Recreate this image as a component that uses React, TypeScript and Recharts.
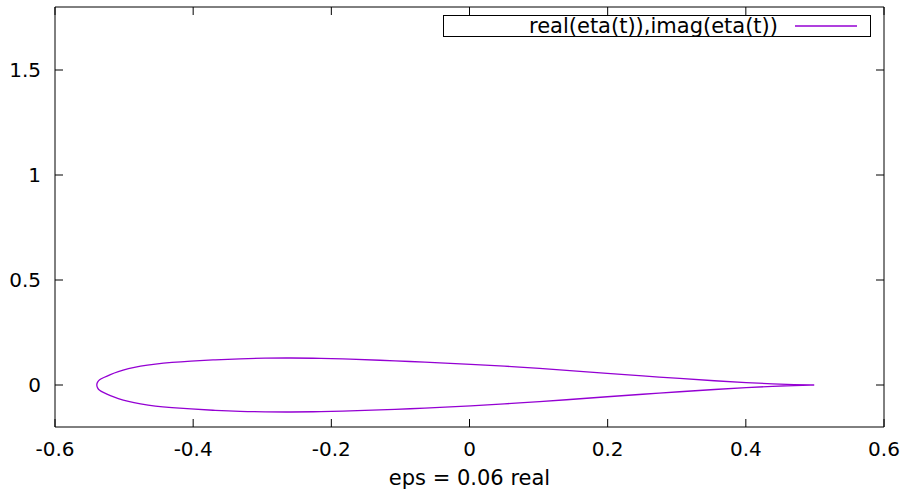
import { LineChart, Line, XAxis, YAxis, Legend } from "recharts";

// airfoil outline, upper surface from trailing to leading edge
const upperX = [0.499, 0.47, 0.44, 0.402, 0.355, 0.305, 0.25, 0.199, 0.15, 0.102, 0.05, 0.001, -0.043, -0.086, -0.13, -0.173, -0.215, -0.26, -0.296, -0.332, -0.368, -0.405, -0.431, -0.455, -0.477, -0.494, -0.509, -0.52, -0.53, -0.536, -0.5385, -0.54];
const upperY = [0, 0.002, 0.005, 0.011, 0.02, 0.031, 0.043, 0.055, 0.067, 0.079, 0.09, 0.099, 0.106, 0.112, 0.118, 0.123, 0.127, 0.129, 0.128, 0.125, 0.12, 0.114, 0.108, 0.1, 0.09, 0.078, 0.064, 0.05, 0.035, 0.025, 0.014, 0];

// lower surface from leading back to trailing edge
const lowerX = [-0.5385, -0.536, -0.53, -0.52, -0.509, -0.494, -0.477, -0.455, -0.431, -0.405, -0.368, -0.332, -0.296, -0.26, -0.215, -0.173, -0.13, -0.086, -0.043, 0.001, 0.05, 0.102, 0.15, 0.199, 0.25, 0.305, 0.355, 0.402, 0.44, 0.47, 0.499];
const lowerY = [-0.014, -0.025, -0.036, -0.051, -0.065, -0.079, -0.09, -0.101, -0.108, -0.114, -0.121, -0.126, -0.128, -0.129, -0.127, -0.124, -0.119, -0.113, -0.107, -0.1, -0.09, -0.079, -0.068, -0.056, -0.044, -0.032, -0.021, -0.012, -0.006, -0.002, 0];

const xTicks = [-0.6, -0.4, -0.2, 0, 0.2, 0.4, 0.6];
const yTicks = [0, 0.5, 1, 1.5];

const seriesName = "real(eta(t)),imag(eta(t))";
const xTitle = "eps = 0.06 real";

const LINE_COLOR = "#9400d3";
const FONT = "DejaVu Sans";
const TICK_LEN = 8;

const data = [
  ...upperX.map((x, i) => ({ x, y: upperY[i] })),
  ...lowerX.map((x, i) => ({ x, y: lowerY[i] })),
];

// gnuplot style: tick marks point into the plot
function BottomTick({ x, y, payload }: any) {
  const axisY = y - 15;
  return (
    <g>
      <line x1={x} x2={x} y1={axisY} y2={axisY - TICK_LEN} stroke="#000" />
      <text x={x} y={y} dy="0.71em" textAnchor="middle" fontSize={20} fontFamily={FONT} fill="#000">
        {payload.value}
      </text>
    </g>
  );
}

function LeftTick({ x, y, payload }: any) {
  const axisX = x + 14;
  return (
    <g>
      <line x1={axisX} x2={axisX + TICK_LEN} y1={y} y2={y} stroke="#000" />
      <text x={x} y={y} dy="0.355em" textAnchor="end" fontSize={20} fontFamily={FONT} fill="#000">
        {payload.value}
      </text>
    </g>
  );
}

function TopTick({ x, y }: any) {
  return <line x1={x} x2={x} y1={y} y2={y + TICK_LEN} stroke="#000" />;
}

function RightTick({ x, y }: any) {
  return <line x1={x} x2={x - TICK_LEN} y1={y} y2={y} stroke="#000" />;
}

function KeyBox({ payload }: any) {
  const item = payload && payload[0];
  return (
    <svg width={428} height={22} style={{ display: "block", overflow: "visible" }}>
      <rect x={0.5} y={0.5} width={427} height={21} fill="#fff" stroke="#000" strokeWidth={1} />
      <text x={335} y={18} textAnchor="end" fontSize={21} fontFamily={FONT} fill="#000">
        {item ? item.value : seriesName}
      </text>
      <line x1={352} x2={414} y1={11} y2={11} stroke={item ? item.color : LINE_COLOR} strokeWidth={1.3} />
    </svg>
  );
}

export default function App() {
  return (
    <div style={{ position: "absolute", left: 0, top: 0, width: 905, height: 494, background: "#fff", fontFamily: FONT }}>
      <LineChart width={905} height={494} data={data} margin={{ top: 6, right: 20, left: 0, bottom: 0 }}>
        <XAxis
          xAxisId="b"
          type="number"
          dataKey="x"
          domain={[-0.6, 0.6]}
          ticks={xTicks}
          interval={0}
          height={67}
          tickSize={0}
          tickMargin={15}
          tickLine={false}
          tick={BottomTick}
          stroke="#000"
          allowDataOverflow
          label={{ value: xTitle, position: "insideBottom", offset: 9, style: { fontSize: 21, fontFamily: FONT, fill: "#000" } }}
        />
        <XAxis
          xAxisId="t"
          orientation="top"
          type="number"
          dataKey="x"
          domain={[-0.6, 0.6]}
          ticks={xTicks}
          interval={0}
          height={1}
          tickSize={0}
          tickMargin={0}
          tickLine={false}
          tick={TopTick}
          stroke="#000"
          allowDataOverflow
        />
        <YAxis
          yAxisId="l"
          type="number"
          domain={[-0.2, 1.8]}
          ticks={yTicks}
          interval={0}
          width={55}
          tickSize={0}
          tickMargin={14}
          tickLine={false}
          tick={LeftTick}
          stroke="#000"
          allowDataOverflow
        />
        <YAxis
          yAxisId="r"
          orientation="right"
          type="number"
          domain={[-0.2, 1.8]}
          ticks={yTicks}
          interval={0}
          width={1}
          tickSize={0}
          tickMargin={0}
          tickLine={false}
          tick={RightTick}
          stroke="#000"
          allowDataOverflow
        />
        <Legend
          layout="vertical"
          align="center"
          verticalAlign="middle"
          content={KeyBox}
          wrapperStyle={{ position: "absolute", left: 443, top: 15, width: 428, height: 22 }}
        />
        <Line
          xAxisId="b"
          yAxisId="l"
          name={seriesName}
          dataKey="y"
          type="basis"
          stroke={LINE_COLOR}
          strokeWidth={1.3}
          dot={false}
          activeDot={false}
          isAnimationActive={false}
        />
      </LineChart>
    </div>
  );
}
